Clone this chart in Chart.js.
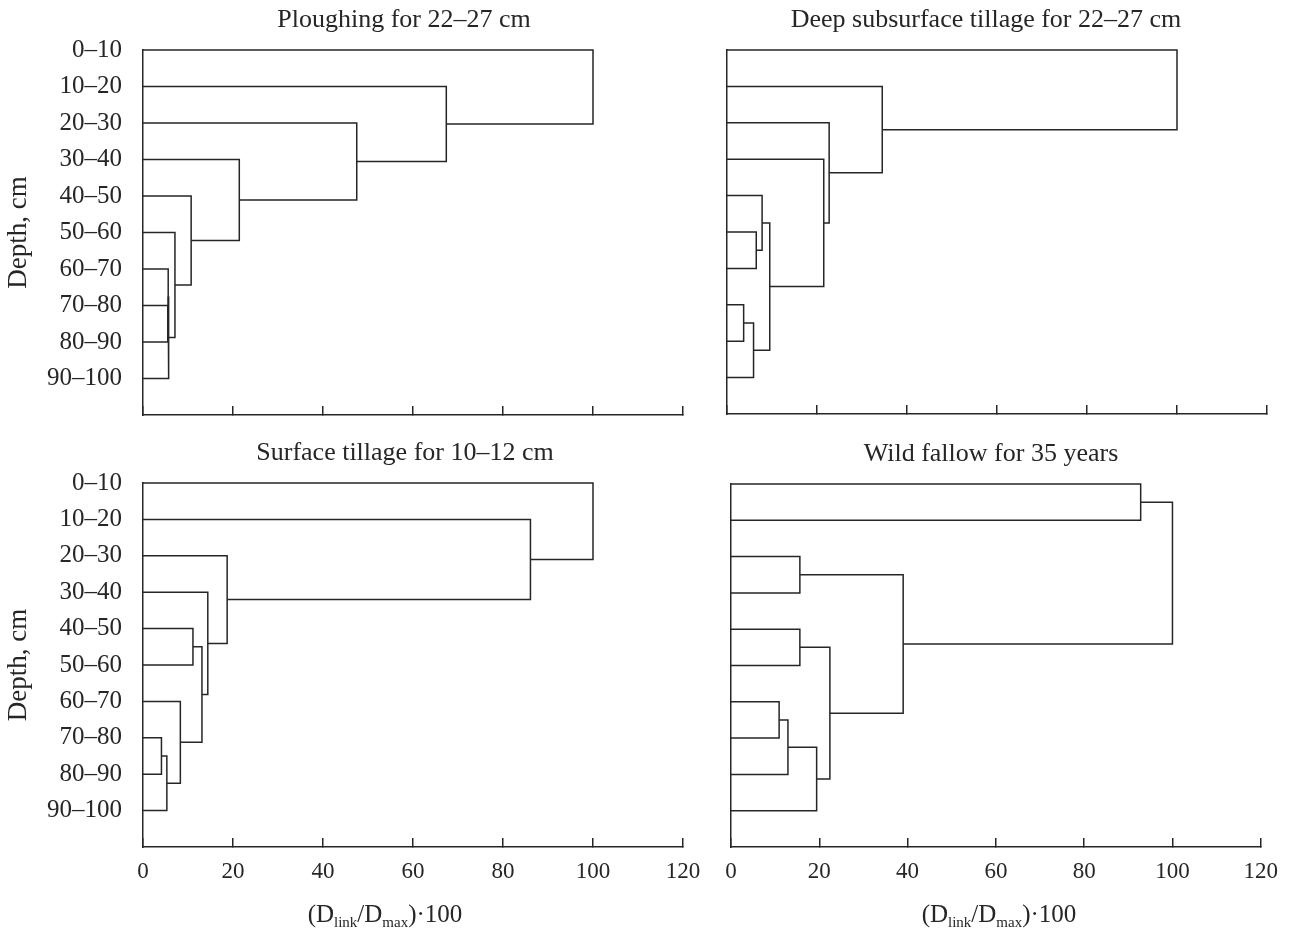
<!DOCTYPE html>
<html>
<head>
<meta charset="utf-8">
<script src="https://cdn.jsdelivr.net/npm/chart.js@4.4.1/dist/chart.umd.min.js"></script>
<style>
  html, body { margin: 0; padding: 0; background: #fff; }
  #wrap { position: relative; width: 1298px; height: 929px; overflow: hidden; background: #fff; }
  canvas { position: absolute; }
</style>
</head>
<body>
<div id="wrap">
  <canvas id="c1" style="left:0px;top:0px" width="808" height="455"></canvas>
  <canvas id="c2" style="left:700px;top:0px" width="598" height="440"></canvas>
  <canvas id="c3" style="left:0px;top:433px" width="810" height="496"></canvas>
  <canvas id="c4" style="left:700px;top:434px" width="598" height="495"></canvas>
</div>
<script>
// ---------------- data ----------------
const depthLabels = ['0–10', '10–20', '20–30', '30–40', '40–50', '50–60', '60–70', '70–80', '80–90', '90–100'];
const xTickValues = [0, 20, 40, 60, 80, 100, 120];

const panelTitles = [
  'Ploughing for 22–27 cm',
  'Deep subsurface tillage for 22–27 cm',
  'Surface tillage for 10–12 cm',
  'Wild fallow for 35 years'
];

// Linkage (leaves 0..9 = depth layers, new clusters numbered 10, 11, ...)
const ploughingLeft   = [7, 6, 11, 5, 4, 3, 2, 1, 0];
const ploughingRight  = [8, 10, 9, 12, 13, 14, 15, 16, 17];
const ploughingHeight = [5.5, 5.6, 5.7, 7.1, 10.7, 21.4, 47.5, 67.4, 100];

const deepLeft   = [7, 10, 5, 4, 13, 3, 2, 1, 0];
const deepRight  = [8, 9, 6, 12, 11, 14, 15, 16, 17];
const deepHeight = [3.7, 5.9, 6.5, 7.8, 9.5, 21.5, 22.7, 34.5, 100];

const surfaceLeft   = [7, 10, 6, 4, 13, 3, 2, 1, 0];
const surfaceRight  = [8, 9, 11, 5, 12, 14, 15, 16, 17];
const surfaceHeight = [4.1, 5.3, 8.3, 11.1, 13.1, 14.4, 18.7, 86.1, 100];

const fallowLeft   = [0, 2, 4, 6, 13, 14, 12, 11, 10];
const fallowRight  = [1, 3, 5, 7, 8, 9, 15, 16, 17];
const fallowHeight = [92.8, 15.6, 15.6, 10.9, 12.9, 19.4, 22.4, 39.0, 100];

const xAxisTitle = ['(D', 'link', '/D', 'max', ')·100'];
const yAxisTitle = 'Depth, cm';

// ---------------- helpers ----------------
const FONT = "'Liberation Serif', 'Times New Roman', Times, serif";
const INK = '#262626';
Chart.defaults.font.family = FONT;
Chart.defaults.color = INK;

function linkDatasets(left, right, height) {
  const n = left.length + 1;
  const pos = [];
  for (let i = 0; i < n; i++) pos.push({ x: 0, y: i });
  const sets = [];
  for (let k = 0; k < left.length; k++) {
    const a = pos[left[k]], b = pos[right[k]], h = height[k];
    sets.push({
      data: [{ x: a.x, y: a.y }, { x: h, y: a.y }, { x: h, y: b.y }, { x: b.x, y: b.y }],
      showLine: true, pointRadius: 0, borderColor: INK, borderWidth: 1.5,
      fill: false, tension: 0, clip: false
    });
    pos.push({ x: h, y: (a.y + b.y) / 2 });
  }
  return sets;
}

const extraText = {
  id: 'extraText',
  afterDraw(chart, args, opts) {
    const ctx = chart.ctx, a = chart.chartArea;
    ctx.save();
    ctx.fillStyle = INK;
    if (opts.yTitle) {
      ctx.save();
      ctx.translate(opts.yTitleX, (a.top + a.bottom) / 2);
      ctx.rotate(-Math.PI / 2);
      ctx.font = '27px ' + FONT;
      ctx.textAlign = 'center';
      ctx.textBaseline = 'middle';
      ctx.fillText(opts.yTitle, 0, 0);
      ctx.restore();
    }
    if (opts.xTitle) {
      const parts = opts.xTitle;
      const big = '25px ' + FONT, small = '15px ' + FONT;
      let total = 0;
      const w = parts.map((p, i) => { ctx.font = (i % 2 === 1) ? small : big; const m = ctx.measureText(p).width; total += m; return m; });
      let x = a.left + opts.xTitleOffset - total / 2;
      const base = a.bottom + opts.xTitleGap;
      ctx.textAlign = 'left';
      ctx.textBaseline = 'alphabetic';
      parts.forEach((p, i) => {
        ctx.font = (i % 2 === 1) ? small : big;
        ctx.fillText(p, x, base + ((i % 2 === 1) ? 5 : 0));
        x += w[i];
      });
    }
    ctx.restore();
  }
};

function makeChart(id, p) {
  return new Chart(document.getElementById(id), {
    type: 'scatter',
    data: { datasets: linkDatasets(p.left, p.right, p.height) },
    plugins: [extraText],
    options: {
      responsive: false,
      animation: false,
      devicePixelRatio: 1,
      events: [],
      layout: { padding: { left: 0, right: p.pr, top: 0, bottom: 0 } },
      plugins: {
        legend: { display: false },
        tooltip: { enabled: false },
        title: {
          display: true, text: p.title, fullSize: true, color: INK,
          font: { size: 26, weight: 'normal', lineHeight: 1 },
          padding: { top: 7, bottom: 17 }
        },
        extraText: {
          yTitle: p.showY ? yAxisTitle : null, yTitleX: 19,
          xTitle: p.showX ? xAxisTitle : null, xTitleOffset: p.xTitleOffset, xTitleGap: 75
        }
      },
      scales: {
        x: {
          type: 'linear', min: 0, max: 120,
          afterBuildTicks: s => { s.ticks = xTickValues.map(v => ({ value: v })); },
          ticks: { display: p.showX, font: { size: 23 }, color: INK, padding: 20, maxRotation: 0, autoSkip: false },
          grid: { display: true, drawOnChartArea: false, drawTicks: true, tickLength: -9, color: INK, lineWidth: 1.5 },
          border: { display: true, color: INK, width: 1.5 },
          afterFit: s => { s.height = p.xHeight; }
        },
        y: {
          type: 'linear', position: 'left', reverse: true, min: 0, max: 10,
          afterBuildTicks: s => { s.ticks = depthLabels.map((_, i) => ({ value: i })).concat([{ value: 10 }]); },
          ticks: {
            display: p.showY, autoSkip: false, font: { size: 25 }, color: INK, padding: 21,
            callback: v => (depthLabels[v] !== undefined ? depthLabels[v] : '')
          },
          grid: { display: false, drawTicks: false },
          border: { display: true, color: INK, width: 1.5 },
          afterFit: s => { s.width = p.yWidth; }
        },
        // empty spacer on the right, keeps the panel title centred like the original
        yRight: {
          axis: 'y', type: 'linear', position: 'right', display: true, min: 0, max: 10,
          ticks: { display: false },
          grid: { display: false, drawTicks: false },
          border: { display: false },
          afterFit: s => { s.width = p.rightW; }
        }
      }
    }
  });
}

makeChart('c1', { title: panelTitles[0], left: ploughingLeft, right: ploughingRight, height: ploughingHeight,
  pr: 0, yWidth: 143, rightW: 125, xHeight: 40, showX: false, showY: true });
makeChart('c2', { title: panelTitles[1], left: deepLeft, right: deepRight, height: deepHeight,
  pr: 26, yWidth: 27, rightW: 5, xHeight: 26, showX: false, showY: false });
makeChart('c3', { title: panelTitles[2], left: surfaceLeft, right: surfaceRight, height: surfaceHeight,
  pr: 0, yWidth: 143, rightW: 127, xHeight: 82, showX: true, showY: true, xTitleOffset: 242 });
makeChart('c4', { title: panelTitles[3], left: fallowLeft, right: fallowRight, height: fallowHeight,
  pr: 16, yWidth: 31, rightW: 11, xHeight: 82, showX: true, showY: false, xTitleOffset: 268 });
</script>
</body>
</html>
